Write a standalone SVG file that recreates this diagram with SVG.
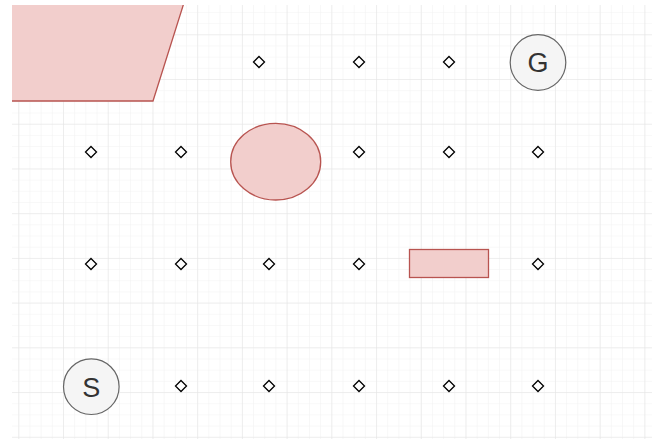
<svg xmlns="http://www.w3.org/2000/svg" width="652" height="441" viewBox="0 0 652 441">
  <defs>
    <pattern id="minor" patternUnits="userSpaceOnUse" x="18.3" y="34.3" width="11.18" height="11.18">
      <path d="M0 0V11.18M0 0H11.18" fill="none" stroke="#f1f1f1" stroke-width="1"/>
    </pattern>
    <pattern id="major" patternUnits="userSpaceOnUse" x="18.3" y="34.3" width="44.72" height="44.72">
      <path d="M0 0V44.72M0 0H44.72" fill="none" stroke="#e4e4e4" stroke-width="1"/>
    </pattern>
    <clipPath id="area"><rect x="12" y="5" width="640" height="434"/></clipPath>
    <style>
      .shape { fill: #f2cecc; stroke: #b85450; stroke-width: 1.3; }
      .term { fill: #f5f5f5; stroke: #666666; stroke-width: 1.2; }
      .term-label { font-family: "Liberation Sans", Arial, sans-serif; font-size: 27px; fill: #333333; text-anchor: middle; }
      .dia { fill: #ffffff; stroke: #000000; stroke-width: 1.3; }
    </style>
    <path id="d" class="dia" d="M0 -5.5L5.5 0L0 5.5L-5.5 0Z"/>
  </defs>
  <rect width="652" height="441" fill="#ffffff"/>
  <g clip-path="url(#area)">
    <rect x="12" y="5" width="640" height="434" fill="url(#minor)"/>
    <rect x="12" y="5" width="640" height="434" fill="url(#major)"/>

    <g id="connectors"></g>

    <g id="parallelogram"><path class="shape" d="M-20 -10H188L153 101H-20Z"/></g>
    <g id="ellipse"><ellipse class="shape" cx="275.7" cy="161.7" rx="45" ry="38.3"/></g>
    <g id="rect"><rect class="shape" x="409.5" y="249.5" width="79" height="28"/></g>

    <g id="G"><circle class="term" cx="538" cy="62.5" r="27.8"/><text class="term-label" x="538" y="72.3">G</text></g>
    <g id="S"><circle class="term" cx="91.3" cy="386.7" r="27.8"/><text class="term-label" x="91.3" y="396.5">S</text></g>

    <g id="p1"><use href="#d" x="259" y="62"/></g>
    <g id="p2"><use href="#d" x="359" y="62"/></g>
    <g id="p3"><use href="#d" x="449" y="62"/></g>
    <g id="p4"><use href="#d" x="91" y="152"/></g>
    <g id="p5"><use href="#d" x="181" y="152"/></g>
    <g id="p6"><use href="#d" x="359" y="152"/></g>
    <g id="p7"><use href="#d" x="449" y="152"/></g>
    <g id="p8"><use href="#d" x="538" y="152"/></g>
    <g id="p9"><use href="#d" x="91" y="264"/></g>
    <g id="p10"><use href="#d" x="181" y="264"/></g>
    <g id="p11"><use href="#d" x="269" y="264"/></g>
    <g id="p12"><use href="#d" x="359" y="264"/></g>
    <g id="p13"><use href="#d" x="538" y="264"/></g>
    <g id="p14"><use href="#d" x="181" y="386"/></g>
    <g id="p15"><use href="#d" x="269" y="386"/></g>
    <g id="p16"><use href="#d" x="359" y="386"/></g>
    <g id="p17"><use href="#d" x="449" y="386"/></g>
    <g id="p18"><use href="#d" x="538" y="386"/></g>
  </g>
</svg>
